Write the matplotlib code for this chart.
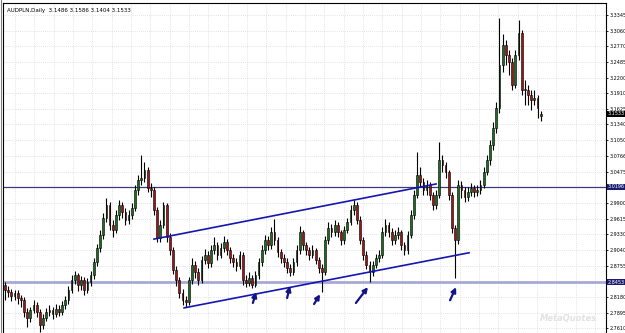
"""AUDPLN daily candles with channel, support lines and arrows (MT4 style)."""

import matplotlib
matplotlib.use("Agg")
import matplotlib.pyplot as plt
import matplotlib.transforms as mtransforms
import numpy as np

# ---- data ----
opens = [
    2.840, 2.831, 2.827, 2.820, 2.825, 2.816, 2.812, 2.790, 2.779, 2.794,
    2.803, 2.790, 2.767, 2.779, 2.790, 2.794, 2.787, 2.796, 2.790, 2.803,
    2.812, 2.831, 2.849, 2.858, 2.840, 2.849, 2.831, 2.845, 2.858, 2.882,
    2.908, 2.932, 2.963, 2.986, 2.950, 2.941, 2.968, 2.986, 2.974, 2.959,
    2.968, 2.981, 3.014, 3.032, 3.036, 3.051, 3.018, 3.014, 2.977, 2.926,
    2.950, 2.986, 2.928, 2.904, 2.867, 2.849, 2.825, 2.812, 2.809, 2.849,
    2.877, 2.864, 2.849, 2.886, 2.895, 2.880, 2.904, 2.913, 2.895, 2.908,
    2.919, 2.904, 2.889, 2.882, 2.875, 2.895, 2.849, 2.844, 2.853, 2.840,
    2.858, 2.882, 2.904, 2.922, 2.913, 2.937, 2.922, 2.900, 2.889, 2.882,
    2.871, 2.864, 2.882, 2.904, 2.937, 2.913, 2.904, 2.895, 2.904, 2.886,
    2.871, 2.864, 2.922, 2.944, 2.937, 2.950, 2.937, 2.922, 2.941, 2.955,
    2.977, 2.986, 2.959, 2.922, 2.895, 2.877, 2.864, 2.877, 2.889, 2.895,
    2.937, 2.950, 2.937, 2.922, 2.932, 2.937, 2.913, 2.904, 2.932, 2.968,
    3.005, 3.041, 3.029, 3.014, 3.023, 3.005, 2.986, 3.005, 3.069, 3.060,
    3.047, 3.005, 2.944, 2.922, 3.023, 3.014, 3.001, 3.010, 3.018, 3.010,
    3.014, 3.023, 3.047, 3.069, 3.096, 3.128, 3.164, 3.243, 3.280, 3.261,
    3.248, 3.206, 3.261, 3.302, 3.197, 3.197, 3.188, 3.179, 3.182, 3.1486,
]
highs = [
    2.846, 2.838, 2.833, 2.831, 2.830, 2.822, 2.818, 2.798, 2.800, 2.812,
    2.809, 2.796, 2.787, 2.798, 2.803, 2.800, 2.805, 2.803, 2.810, 2.820,
    2.838, 2.858, 2.866, 2.862, 2.857, 2.855, 2.853, 2.866, 2.889, 2.915,
    2.941, 2.972, 2.999, 2.992, 2.959, 2.977, 2.996, 2.992, 2.981, 2.977,
    2.990, 3.023, 3.041, 3.078, 3.065, 3.056, 3.027, 3.019, 2.983, 2.959,
    2.992, 2.990, 2.935, 2.910, 2.875, 2.855, 2.833, 2.820, 2.855, 2.889,
    2.884, 2.871, 2.893, 2.906, 2.902, 2.913, 2.928, 2.919, 2.917, 2.930,
    2.924, 2.910, 2.897, 2.889, 2.902, 2.900, 2.858, 2.864, 2.858, 2.866,
    2.889, 2.913, 2.932, 2.930, 2.946, 2.961, 2.928, 2.906, 2.897, 2.889,
    2.878, 2.889, 2.913, 2.948, 2.941, 2.919, 2.910, 2.913, 2.908, 2.891,
    2.878, 2.930, 2.955, 2.952, 2.959, 2.955, 2.941, 2.948, 2.963, 2.986,
    2.996, 2.992, 2.966, 2.928, 2.902, 2.884, 2.884, 2.897, 2.904, 2.946,
    2.961, 2.955, 2.944, 2.941, 2.946, 2.941, 2.919, 2.939, 2.977, 3.014,
    3.084, 3.056, 3.036, 3.032, 3.029, 3.010, 3.014, 3.102, 3.078, 3.065,
    3.051, 3.010, 2.950, 3.032, 3.030, 3.019, 3.019, 3.027, 3.023, 3.023,
    3.032, 3.056, 3.078, 3.106, 3.139, 3.175, 3.329, 3.300, 3.289, 3.270,
    3.256, 3.270, 3.325, 3.307, 3.215, 3.206, 3.197, 3.197, 3.188, 3.1586,
]
lows = [
    2.812, 2.818, 2.810, 2.812, 2.805, 2.800, 2.781, 2.763, 2.772, 2.788,
    2.782, 2.754, 2.760, 2.774, 2.783, 2.778, 2.781, 2.783, 2.785, 2.796,
    2.805, 2.825, 2.842, 2.829, 2.831, 2.822, 2.825, 2.838, 2.851, 2.875,
    2.900, 2.925, 2.955, 2.941, 2.928, 2.935, 2.959, 2.963, 2.950, 2.952,
    2.961, 2.975, 3.005, 3.023, 3.029, 3.010, 3.001, 2.968, 2.919, 2.919,
    2.944, 2.919, 2.895, 2.860, 2.838, 2.816, 2.803, 2.800, 2.803, 2.842,
    2.853, 2.840, 2.844, 2.878, 2.871, 2.873, 2.897, 2.886, 2.889, 2.900,
    2.895, 2.880, 2.873, 2.866, 2.869, 2.840, 2.836, 2.838, 2.834, 2.836,
    2.851, 2.875, 2.897, 2.904, 2.906, 2.913, 2.891, 2.880, 2.873, 2.862,
    2.856, 2.858, 2.875, 2.897, 2.904, 2.895, 2.886, 2.889, 2.878, 2.862,
    2.827, 2.858, 2.915, 2.928, 2.930, 2.928, 2.913, 2.915, 2.935, 2.950,
    2.968, 2.952, 2.915, 2.886, 2.869, 2.845, 2.856, 2.871, 2.882, 2.889,
    2.930, 2.928, 2.913, 2.915, 2.924, 2.904, 2.895, 2.897, 2.926, 2.961,
    2.999, 3.019, 3.005, 3.005, 2.996, 2.977, 2.979, 2.999, 3.047, 3.036,
    2.996, 2.935, 2.853, 2.915, 2.999, 2.992, 2.994, 3.003, 3.001, 3.003,
    3.007, 3.018, 3.041, 3.060, 3.087, 3.119, 3.155, 3.230, 3.243, 3.225,
    3.197, 3.200, 3.252, 3.188, 3.170, 3.170, 3.160, 3.170, 3.146, 3.1404,
]
closes = [
    2.831, 2.827, 2.820, 2.825, 2.816, 2.812, 2.790, 2.779, 2.794, 2.803,
    2.790, 2.767, 2.779, 2.790, 2.794, 2.787, 2.796, 2.790, 2.803, 2.812,
    2.831, 2.849, 2.858, 2.840, 2.849, 2.831, 2.845, 2.858, 2.882, 2.908,
    2.932, 2.963, 2.986, 2.950, 2.941, 2.968, 2.986, 2.974, 2.959, 2.968,
    2.981, 3.014, 3.032, 3.036, 3.051, 3.018, 3.014, 2.977, 2.926, 2.950,
    2.986, 2.928, 2.904, 2.867, 2.849, 2.825, 2.812, 2.809, 2.849, 2.877,
    2.864, 2.849, 2.886, 2.895, 2.880, 2.904, 2.913, 2.895, 2.908, 2.919,
    2.904, 2.889, 2.882, 2.875, 2.895, 2.849, 2.844, 2.853, 2.840, 2.858,
    2.882, 2.904, 2.922, 2.913, 2.937, 2.922, 2.900, 2.889, 2.882, 2.871,
    2.864, 2.882, 2.904, 2.937, 2.913, 2.904, 2.895, 2.904, 2.886, 2.871,
    2.864, 2.922, 2.944, 2.937, 2.950, 2.937, 2.922, 2.941, 2.955, 2.977,
    2.986, 2.959, 2.922, 2.895, 2.877, 2.864, 2.877, 2.889, 2.895, 2.937,
    2.950, 2.937, 2.922, 2.932, 2.937, 2.913, 2.904, 2.932, 2.968, 3.005,
    3.041, 3.029, 3.014, 3.023, 3.005, 2.986, 3.005, 3.069, 3.060, 3.047,
    3.005, 2.944, 2.922, 3.023, 3.014, 3.001, 3.010, 3.018, 3.010, 3.014,
    3.023, 3.047, 3.069, 3.096, 3.128, 3.164, 3.243, 3.280, 3.261, 3.248,
    3.206, 3.261, 3.302, 3.197, 3.197, 3.188, 3.179, 3.182, 3.164, 3.1533,
]

price_ticks = [3.3345, 3.3060, 3.2770, 3.2485, 3.2200, 3.1910, 3.1625, 3.1340,
               3.1050, 3.0766, 3.0475, 2.9900, 2.9615, 2.9330, 2.9040, 2.8755,
               2.8180, 2.7895, 2.7610]
level_upper = 3.0196
level_lower = 2.8453
last_price = 3.1533
title_text = "AUDPLN,Daily  3.1486 3.1586 3.1404 3.1533"

# channel lines (bar index, price)
channel_top = [(47.0, 2.924), (136.0, 3.025)]
channel_bottom = [(56.5, 2.798), (146.4, 2.899)]
# arrows (tail, head) as (bar index, price)
arrows = [
    ((78.2, 2.807), (79.2, 2.827)),
    ((89.0, 2.816), (89.9, 2.838)),
    ((97.5, 2.805), (99.4, 2.823)),
    ((110.7, 2.807), (114.5, 2.836)),
    ((140.4, 2.812), (142.3, 2.836)),
]

# ---- figure ----
W, H = 625, 333
fig = plt.figure(figsize=(W / 100, H / 100), dpi=100)
fig.patch.set_facecolor("white")
ax = fig.add_axes([3 / W, 0.0, (606 - 3) / W, 1 - 3 / H])
ax.set_facecolor("white")

n = len(closes)
idx = np.arange(n)
o = np.array(opens)
h = np.array(highs)
l = np.array(lows)
c = np.array(closes)

# grid (dotted)
px_per_bar = 3.17
for k in range(31):
    gx = (15 + k * 19.33 - 5) / px_per_bar
    ax.axvline(gx, color="#d8d8e4", lw=0.6, ls=(0, (1, 1.5)), zorder=0)
for p in price_ticks:
    ax.axhline(p, color="#d8d8e4", lw=0.6, ls=(0, (1, 1.5)), zorder=0)

# horizontal levels
ax.axhline(level_upper, color="#3a3a7c", lw=0.9, zorder=1)
ax.axhline(level_lower, color="#a8a8d8", lw=2.0, zorder=1)

# candles
ax.vlines(idx, l, h, color="black", lw=0.8, zorder=3)
bull = c >= o
body_bottom = np.minimum(o, c)
body_height = np.maximum(np.abs(c - o), 0.0015)
ax.bar(idx[bull], body_height[bull], bottom=body_bottom[bull], width=0.55,
       color="#1f6b1f", edgecolor="black", linewidth=0.4, zorder=4)
ax.bar(idx[~bull], body_height[~bull], bottom=body_bottom[~bull], width=0.55,
       color="#a01414", edgecolor="black", linewidth=0.4, zorder=4)

# channel
for pts in (channel_top, channel_bottom):
    xs, ys = zip(*pts)
    ax.plot(xs, ys, color="#1515b0", lw=1.2, zorder=5)

# arrows
for tail, head in arrows:
    ax.annotate("", xy=head, xytext=tail,
                arrowprops=dict(arrowstyle="-|>", color="#12128a", lw=1.6,
                                mutation_scale=7, shrinkA=0, shrinkB=0),
                zorder=6)

ax.set_xlim(-0.63, 189.6)
ax.set_ylim(2.752, 3.3565)

# right price scale
ax.yaxis.tick_right()
ax.set_yticks(price_ticks)
ax.set_yticklabels([f"{p:.4f}" for p in price_ticks], fontsize=3.5)
ax.tick_params(axis="y", length=1.5, width=0.6, pad=0.8, colors="black")
ax.set_xticks([])
for side in ("top", "right", "left"):
    ax.spines[side].set_color("black")
    ax.spines[side].set_linewidth(0.8)
ax.spines["bottom"].set_visible(False)

trans = mtransforms.blended_transform_factory(ax.transAxes, ax.transData)
for val, bg in ((level_upper, "#1c1c6e"), (level_lower, "#1c1c6e"), (last_price, "black")):
    ax.text(1.003, val, f"{val:.4f}", transform=trans, fontsize=3.5, color="white",
            va="center", ha="left",
            bbox=dict(boxstyle="square,pad=0.12", fc=bg, ec="none"))

ax.text(0.006, 0.985, title_text, transform=ax.transAxes, fontsize=4,
        va="top", ha="left", color="black")
fig.text(0.955, 0.03, "MetaQuotes", fontsize=6, color="#e2e2e2", style="italic",
         ha="right", va="bottom", weight="bold")

# outer window edge on the left
fig.add_artist(plt.Line2D([1 / W, 1 / W], [0, 1], color="#808080", lw=0.8))

fig.savefig("out.png", dpi=100)
